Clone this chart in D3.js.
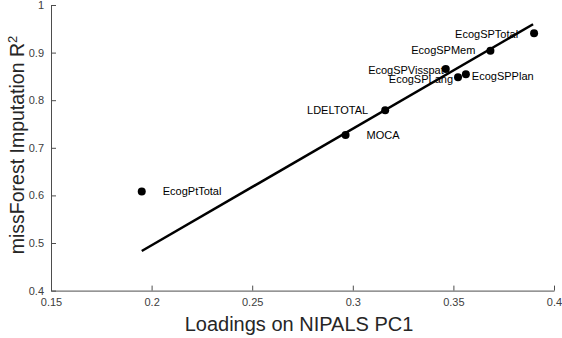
<!DOCTYPE html>
<html lang="en">
<head>
<meta charset="utf-8">
<title>missForest R2 vs NIPALS loadings</title>
<script src="https://d3js.org/d3.v7.min.js"></script>
<style>
  body { margin: 0; background: #fff; }
  svg { display: block; font-family: "Liberation Sans", Arial, sans-serif; }
</style>
</head>
<body>
<div id="chart"></div>
<script>
// variables (loading on PC1, imputation R^2)
const names = ['EcogPtTotal', 'MOCA', 'LDELTOTAL', 'EcogSPVisspat', 'EcogSPLang', 'EcogSPPlan', 'EcogSPMem', 'EcogSPTotal'];
const loadings = [0.1951, 0.2964, 0.3161, 0.3462, 0.3523, 0.3562, 0.3684, 0.3901];
const r2 = [0.608, 0.727, 0.779, 0.8655, 0.848, 0.8545, 0.904, 0.9405];

// fitted line end points
const fitX = [0.1951, 0.3896];
const fitY = [0.4832, 0.9595];

const xTicks = [0.15, 0.2, 0.25, 0.3, 0.35, 0.4];
const yTicks = [0.4, 0.5, 0.6, 0.7, 0.8, 0.9, 1];

// label placement: pixel offset from the point and text anchor
const labelPos = [
  { dx: 21, dy: 0, anchor: 'start' },
  { dx: 21, dy: 0, anchor: 'start' },
  { dx: -17, dy: 0, anchor: 'end' },
  { dx: -2, dy: 1, anchor: 'end' },
  { dx: -5, dy: 1.5, anchor: 'end' },
  { dx: 6, dy: 1.5, anchor: 'start' },
  { dx: -15, dy: -0.5, anchor: 'end' },
  { dx: -16, dy: 1, anchor: 'end' }
];

const width = 562, height = 338;
const m = { left: 51, right: 554, top: 5, bottom: 290.6 };

const svg = d3.select('#chart').append('svg')
  .attr('width', width)
  .attr('height', height);

const x = d3.scaleLinear().domain([0.15, 0.4]).range([m.left, m.right]);
const y = d3.scaleLinear().domain([0.4, 1]).range([m.bottom, m.top]);

const axisColor = '#4d4d4d';
const tickText = '#404040';

// x axis (ticks point inward)
const gx = svg.append('g')
  .attr('transform', `translate(0,${m.bottom})`)
  .call(d3.axisBottom(x).tickValues(xTicks).tickFormat(d3.format('~g')).tickSizeInner(-5).tickSizeOuter(0).tickPadding(8));
gx.select('.domain').attr('stroke', axisColor);
gx.selectAll('.tick line').attr('stroke', axisColor);
gx.selectAll('.tick text').attr('fill', tickText).style('font-size', '11px').attr('dy', '0.71em');

// y axis
const gy = svg.append('g')
  .attr('transform', `translate(${m.left},0)`)
  .call(d3.axisLeft(y).tickValues(yTicks).tickFormat(d3.format('~g')).tickSizeInner(-5).tickSizeOuter(0).tickPadding(7));
gy.select('.domain').attr('stroke', axisColor);
gy.selectAll('.tick line').attr('stroke', axisColor);
gy.selectAll('.tick text').attr('fill', tickText).style('font-size', '11px');

// fit line
svg.append('path')
  .datum(d3.zip(fitX, fitY))
  .attr('fill', 'none')
  .attr('stroke', '#000')
  .attr('stroke-width', 2.5)
  .attr('d', d3.line().x(d => x(d[0])).y(d => y(d[1])));

// points
const pts = d3.range(names.length);
svg.selectAll('circle.pt')
  .data(pts)
  .enter()
  .append('circle')
  .attr('class', 'pt')
  .attr('cx', i => x(loadings[i]))
  .attr('cy', i => y(r2[i]))
  .attr('r', 4)
  .attr('fill', '#000');

svg.selectAll('text.lbl')
  .data(pts)
  .enter()
  .append('text')
  .attr('class', 'lbl')
  .attr('x', i => x(loadings[i]) + labelPos[i].dx)
  .attr('y', i => y(r2[i]) + labelPos[i].dy)
  .attr('dy', '0.35em')
  .attr('text-anchor', i => labelPos[i].anchor)
  .style('font-size', '11px')
  .attr('fill', '#000')
  .text(i => names[i]);

// axis titles
svg.append('text')
  .attr('x', 299)
  .attr('y', 331)
  .attr('text-anchor', 'middle')
  .attr('fill', '#262626')
  .style('font-size', '20px')
  .text('Loadings on NIPALS PC1');

const yl = svg.append('text')
  .attr('transform', 'translate(24,145) rotate(-90)')
  .attr('text-anchor', 'middle')
  .attr('fill', '#262626')
  .style('font-size', '19.5px');
yl.append('tspan').text('missForest Imputation R');
yl.append('tspan').attr('dy', '-0.55em').style('font-size', '13px').text('2');
</script>
</body>
</html>
